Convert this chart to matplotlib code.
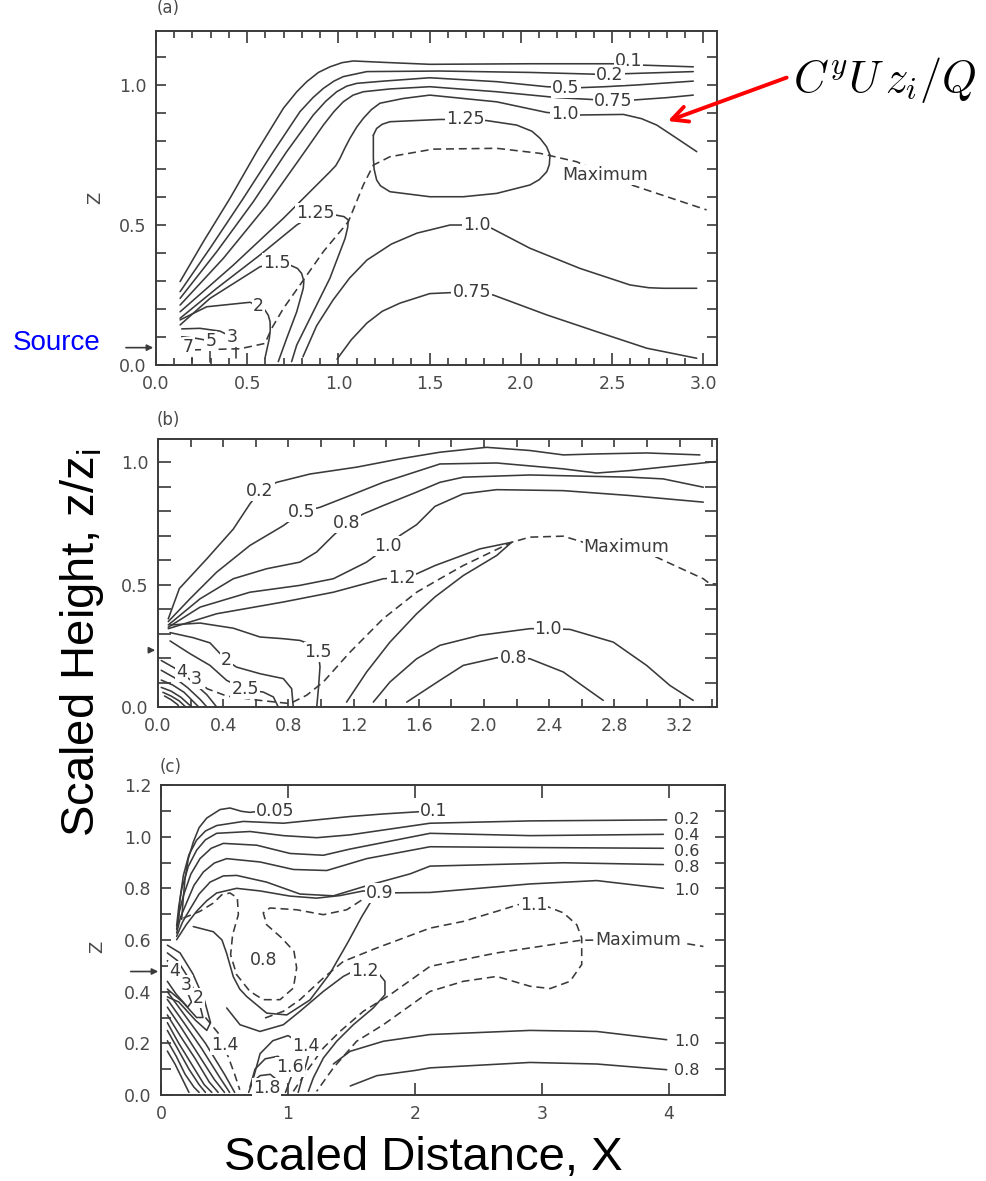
import matplotlib
matplotlib.use("Agg")
import matplotlib.pyplot as plt
from matplotlib.ticker import MultipleLocator

plt.rcParams['font.family'] = ['DejaVu Sans']
INK = '#3a3a3a'
W, H = 987, 1181

# ---------------- panel (a): contour lines (x, z) ----------------
a_01 = [(0.132, 0.298), (0.259, 0.440), (0.405, 0.595), (0.552, 0.762), (0.698, 0.917), (0.770, 0.975),
        (0.826, 1.012), (0.890, 1.045), (0.953, 1.065), (1.020, 1.080), (1.081, 1.086), (1.246, 1.081),
        (1.50, 1.074), (2.05, 1.076), (2.50, 1.076), (2.67, 1.071), (2.944, 1.065)]
a_02 = [(0.132, 0.262), (0.296, 0.417), (0.478, 0.595), (0.643, 0.762), (0.789, 0.905), (0.860, 0.955),
        (0.917, 0.988), (0.975, 1.014), (1.026, 1.030), (1.155, 1.048), (1.556, 1.050), (2.05, 1.045),
        (2.45, 1.038), (2.944, 1.048)]
a_05 = [(0.132, 0.238), (0.333, 0.405), (0.533, 0.583), (0.716, 0.762), (0.862, 0.893), (0.930, 0.942),
        (0.990, 0.976), (1.045, 0.996), (1.100, 1.006), (1.246, 1.014), (1.50, 1.026), (1.867, 1.012),
        (2.141, 0.994), (2.30, 0.990), (2.46, 0.994), (2.63, 1.000), (2.944, 1.014)]
a_075 = [(0.132, 0.214), (0.369, 0.381), (0.607, 0.571), (0.789, 0.738), (0.917, 0.857), (0.975, 0.905),
         (1.026, 0.940), (1.080, 0.964), (1.136, 0.976), (1.282, 0.986), (1.50, 0.994), (1.867, 0.976),
         (2.20, 0.955), (2.54, 0.943), (2.80, 0.955), (2.944, 0.964)]
a_10 = [(0.132, 0.190), (0.424, 0.357), (0.698, 0.524), (0.953, 0.690), (0.985, 0.712), (1.008, 0.738),
        (1.035, 0.775), (1.063, 0.810), (1.100, 0.850), (1.136, 0.881), (1.180, 0.912), (1.227, 0.935),
        (1.355, 0.952), (1.50, 0.964), (1.867, 0.940), (2.141, 0.902), (2.323, 0.893), (2.561, 0.895),
        (2.660, 0.880), (2.744, 0.857), (2.853, 0.810), (2.963, 0.762)]
a_125 = [(0.132, 0.167), (0.333, 0.274), (0.570, 0.393), (0.771, 0.500), (0.875, 0.542), (0.981, 0.536),
         (1.030, 0.530), (1.054, 0.518), (1.050, 0.490), (1.036, 0.452), (0.953, 0.310), (0.844, 0.167),
         (0.771, 0.071), (0.743, 0.012)]
a_15 = [(0.132, 0.143), (0.296, 0.238), (0.570, 0.351), (0.661, 0.363), (0.734, 0.357), (0.775, 0.345),
        (0.798, 0.327), (0.810, 0.300), (0.807, 0.274), (0.771, 0.190), (0.716, 0.095), (0.670, 0.012)]
a_2 = [(0.132, 0.161), (0.278, 0.208), (0.515, 0.224), (0.561, 0.212), (0.597, 0.196), (0.615, 0.178),
       (0.625, 0.155), (0.626, 0.125), (0.621, 0.095), (0.597, 0.024)]
a_3 = [(0.141, 0.129), (0.241, 0.131), (0.351, 0.121), (0.40, 0.105)]
a_5 = [(0.141, 0.101), (0.223, 0.095), (0.28, 0.088)]
a_loop125 = [(1.191, 0.821), (1.209, 0.845), (1.240, 0.860), (1.282, 0.869), (1.556, 0.877), (1.693, 0.877),
             (1.812, 0.873), (1.976, 0.857), (2.060, 0.835), (2.104, 0.810), (2.140, 0.780), (2.159, 0.750),
             (2.155, 0.715), (2.141, 0.690), (2.100, 0.662), (2.049, 0.643), (1.867, 0.613), (1.684, 0.601),
             (1.501, 0.601), (1.282, 0.619), (1.230, 0.640), (1.209, 0.661), (1.195, 0.700), (1.191, 0.738),
             (1.191, 0.821)]
a_10low = [(0.805, 0.029), (0.880, 0.140), (0.970, 0.232), (1.060, 0.310), (1.156, 0.375), (1.290, 0.432),
           (1.430, 0.471), (1.611, 0.500), (1.757, 0.500), (1.840, 0.488), (2.049, 0.417), (2.323, 0.345),
           (2.597, 0.286), (2.700, 0.276), (2.780, 0.274), (2.963, 0.274)]
a_075low = [(0.992, 0.021), (1.070, 0.090), (1.156, 0.150), (1.240, 0.192), (1.337, 0.221), (1.500, 0.255),
            (1.730, 0.262), (1.848, 0.250), (2.141, 0.179), (2.415, 0.119), (2.689, 0.060), (2.963, 0.024)]
a_stubs = [[(0.196, 0.012), (0.196, 0.060)], [(0.296, 0.012), (0.296, 0.060)], [(0.438, 0.025), (0.438, 0.080)]]
a_max = [(0.203, 0.054), (0.460, 0.058), (0.597, 0.077), (0.634, 0.131), (0.698, 0.202), (0.789, 0.286),
         (0.917, 0.405), (1.054, 0.512), (1.136, 0.643), (1.191, 0.714), (1.282, 0.744), (1.518, 0.771),
         (1.867, 0.774), (2.104, 0.756), (2.305, 0.726), (2.464, 0.679), (2.597, 0.645), (3.017, 0.554)]
a_labels = [('0.1', 2.588, 1.086), ('0.2', 2.488, 1.036), ('0.5', 2.245, 0.990), ('0.75', 2.506, 0.943),
            ('1.0', 2.241, 0.895), ('1.25', 1.693, 0.877), ('1.25', 0.875, 0.542), ('1.5', 0.661, 0.363),
            ('2', 0.561, 0.212), ('3', 0.415, 0.101), ('5', 0.30, 0.086), ('7', 0.177, 0.065),
            ('1.0', 1.757, 0.500), ('0.75', 1.730, 0.262), ('Maximum', 2.464, 0.679)]

# ---------------- panel (b) ----------------
b_02 = [(0.063, 0.360), (0.131, 0.484), (0.299, 0.605), (0.462, 0.727), (0.564, 0.830), (0.626, 0.884),
        (0.728, 0.918), (0.933, 0.952), (1.219, 0.980), (1.485, 1.014), (1.730, 1.041), (2.016, 1.061),
        (2.282, 1.048), (2.487, 1.030), (2.691, 1.034), (2.998, 1.038), (3.325, 1.030)]
b_05 = [(0.063, 0.349), (0.196, 0.442), (0.360, 0.551), (0.564, 0.660), (0.769, 0.741), (0.881, 0.796),
        (0.994, 0.816), (1.178, 0.864), (1.382, 0.918), (1.730, 0.993), (2.078, 0.997), (2.487, 0.973),
        (2.691, 0.956), (2.896, 0.966), (3.428, 1.003)]
b_08 = [(0.063, 0.335), (0.258, 0.442), (0.462, 0.524), (0.667, 0.565), (0.871, 0.592), (0.973, 0.633),
        (1.076, 0.701), (1.157, 0.752), (1.260, 0.789), (1.382, 0.823), (1.587, 0.878), (1.730, 0.918),
        (1.873, 0.939), (2.282, 0.948), (2.896, 0.939), (3.100, 0.932), (3.346, 0.898)]
b_10 = [(0.063, 0.326), (0.258, 0.408), (0.564, 0.469), (0.871, 0.497), (1.076, 0.524), (1.280, 0.592),
        (1.413, 0.657), (1.485, 0.701), (1.587, 0.745), (1.700, 0.820), (1.873, 0.871), (2.078, 0.888),
        (2.487, 0.884), (2.896, 0.864), (3.346, 0.837)]
b_12 = [(0.063, 0.320), (0.360, 0.381), (0.769, 0.429), (1.076, 0.469), (1.382, 0.524), (1.495, 0.528),
        (1.587, 0.544), (1.700, 0.578), (1.975, 0.646), (2.170, 0.673), (2.078, 0.619), (1.873, 0.537),
        (1.700, 0.450), (1.587, 0.381), (1.423, 0.265), (1.280, 0.143), (1.157, 0.020)]
b_10low = [(1.321, 0.020), (1.423, 0.102), (1.587, 0.197), (1.730, 0.252), (1.975, 0.293), (2.282, 0.320),
           (2.395, 0.320), (2.528, 0.317), (2.794, 0.265), (2.998, 0.170), (3.141, 0.088), (3.284, 0.027)]
b_08low = [(1.526, 0.020), (1.730, 0.109), (1.873, 0.170), (2.078, 0.201), (2.180, 0.201), (2.282, 0.197),
           (2.487, 0.143), (2.630, 0.075), (2.732, 0.027)]
b_15 = [(0.074, 0.335), (0.258, 0.343), (0.462, 0.322), (0.626, 0.286), (0.769, 0.279), (0.871, 0.272),
        (0.953, 0.252), (0.984, 0.224), (0.994, 0.164), (0.985, 0.080), (0.974, 0.0)]
b_2 = [(0.074, 0.304), (0.217, 0.283), (0.319, 0.262), (0.421, 0.190), (0.482, 0.163), (0.626, 0.136),
       (0.769, 0.116), (0.820, 0.075), (0.830, 0.0)]
b_25 = [(0.074, 0.270), (0.196, 0.218), (0.319, 0.170), (0.421, 0.109), (0.534, 0.072), (0.646, 0.061),
        (0.708, 0.041), (0.738, 0.0)]
b_fan = [[(0.02, 0.19), (0.10, 0.16), (0.20, 0.11), (0.30, 0.05), (0.36, 0.0)],
         [(0.02, 0.15), (0.10, 0.12), (0.18, 0.08), (0.26, 0.03), (0.30, 0.0)],
         [(0.02, 0.11), (0.09, 0.09), (0.16, 0.06), (0.22, 0.02), (0.25, 0.0)],
         [(0.02, 0.08), (0.08, 0.065), (0.14, 0.04), (0.19, 0.01), (0.21, 0.0)],
         [(0.03, 0.06), (0.08, 0.045), (0.13, 0.025), (0.17, 0.0)],
         [(0.04, 0.045), (0.08, 0.03), (0.12, 0.01), (0.13, 0.0)]]
b_max = [(0.24, 0.12), (0.30, 0.075), (0.421, 0.045), (0.626, 0.027), (0.810, 0.014), (0.912, 0.048),
         (1.014, 0.102), (1.178, 0.224), (1.382, 0.361), (1.587, 0.469), (1.730, 0.524), (1.873, 0.578),
         (2.170, 0.673), (2.282, 0.694), (2.487, 0.698), (2.610, 0.673), (2.875, 0.653), (3.059, 0.612),
         (3.346, 0.524), (3.387, 0.503), (3.428, 0.503)]
b_labels = [('0.2', 0.626, 0.884), ('0.5', 0.881, 0.796), ('0.8', 1.157, 0.752), ('1.0', 1.413, 0.657),
            ('1.2', 1.495, 0.528), ('1.5', 0.984, 0.224), ('2', 0.421, 0.190), ('2.5', 0.534, 0.072),
            ('4', 0.145, 0.143), ('3', 0.237, 0.113), ('1.0', 2.395, 0.320), ('0.8', 2.180, 0.201),
            ('Maximum', 2.875, 0.653)]

# ---------------- panel (c) ----------------
c_005 = [(0.163, 0.680), (0.175, 0.760), (0.189, 0.837), (0.215, 0.915), (0.255, 0.980), (0.300, 1.035),
         (0.360, 1.072), (0.465, 1.105), (0.543, 1.111), (0.635, 1.098), (0.701, 1.094), (0.80, 1.100)]
c_01 = [(0.136, 0.667), (0.150, 0.760), (0.176, 0.850), (0.220, 0.930), (0.281, 0.987), (0.350, 1.022),
        (0.438, 1.043), (0.648, 1.059), (0.963, 1.052), (1.226, 1.065), (1.488, 1.078), (1.751, 1.088),
        (2.08, 1.098)]
c_02 = [(0.123, 0.654), (0.140, 0.730), (0.163, 0.797), (0.215, 0.885), (0.281, 0.948), (0.350, 0.988),
        (0.438, 1.013), (0.701, 1.020), (0.963, 1.004), (1.226, 0.996), (1.488, 1.007), (2.118, 1.052),
        (2.906, 1.061), (3.981, 1.065)]
c_04 = [(0.123, 0.641), (0.145, 0.710), (0.176, 0.771), (0.235, 0.855), (0.307, 0.915), (0.395, 0.955),
        (0.491, 0.974), (0.753, 0.967), (1.016, 0.935), (1.278, 0.928), (1.488, 0.952), (2.118, 1.013),
        (2.906, 1.004), (3.955, 1.009)]
c_06 = [(0.123, 0.627), (0.155, 0.690), (0.202, 0.745), (0.260, 0.812), (0.333, 0.863), (0.420, 0.898),
        (0.517, 0.915), (0.780, 0.902), (1.042, 0.873), (1.305, 0.869), (1.619, 0.915), (2.118, 0.961),
        (2.906, 0.958), (3.955, 0.955)]
c_08 = [(0.123, 0.614), (0.170, 0.670), (0.228, 0.719), (0.300, 0.778), (0.386, 0.824), (0.490, 0.848),
        (0.596, 0.850), (0.832, 0.824), (1.094, 0.778), (1.357, 0.771), (1.619, 0.810), (1.961, 0.856),
        (2.118, 0.886), (3.168, 0.899), (3.955, 0.892)]
c_10 = [(0.123, 0.601), (0.200, 0.660), (0.280, 0.711), (0.360, 0.752), (0.438, 0.782), (0.595, 0.800),
        (0.779, 0.790), (1.015, 0.770), (1.225, 0.762), (1.409, 0.772), (1.593, 0.790), (1.724, 0.782),
        (2.118, 0.784), (2.906, 0.817), (3.430, 0.830), (3.955, 0.800)]
c_wrap = [(0.254, 0.652), (0.412, 0.632), (0.480, 0.600), (0.517, 0.548), (0.569, 0.458), (0.620, 0.410),
          (0.675, 0.381), (0.832, 0.317), (0.990, 0.310), (1.173, 0.368), (1.331, 0.471), (1.470, 0.590),
          (1.580, 0.690), (1.660, 0.755), (1.724, 0.782)]
c_12 = [(0.517, 0.337), (0.622, 0.272), (0.779, 0.246), (0.963, 0.272), (1.094, 0.324), (1.278, 0.401),
        (1.435, 0.459), (1.514, 0.479), (1.606, 0.481), (1.711, 0.472), (1.763, 0.440), (1.763, 0.388),
        (1.671, 0.337), (1.514, 0.272), (1.383, 0.208), (1.278, 0.143), (1.199, 0.066), (1.160, 0.014)]
c_10low = [(1.357, 0.120), (1.488, 0.169), (1.750, 0.208), (2.118, 0.234), (2.905, 0.250), (3.430, 0.246),
           (3.981, 0.214)]
c_08low = [(1.490, 0.035), (1.700, 0.075), (2.000, 0.095), (2.118, 0.105), (2.905, 0.126), (3.430, 0.120),
           (3.981, 0.098)]
c_18 = [(0.69, 0.01), (0.72, 0.05), (0.78, 0.075), (0.86, 0.08), (0.91, 0.06), (0.93, 0.01)]
c_16 = [(0.70, 0.03), (0.74, 0.10), (0.82, 0.14), (0.92, 0.15), (1.016, 0.107), (1.04, 0.09), (1.01, 0.05),
        (0.98, 0.01)]
c_14 = [(0.73, 0.07), (0.78, 0.16), (0.88, 0.21), (1.00, 0.23), (1.141, 0.188), (1.16, 0.15), (1.12, 0.08),
        (1.08, 0.01)]
c_loops = [[(0.05, 0.58), (0.15, 0.55), (0.25, 0.47), (0.34, 0.37), (0.39, 0.28), (0.36, 0.25), (0.27, 0.29),
            (0.14, 0.36), (0.05, 0.38)],
           [(0.05, 0.55), (0.13, 0.52), (0.22, 0.45), (0.30, 0.36), (0.33, 0.30), (0.28, 0.30), (0.17, 0.36),
            (0.05, 0.41)],
           [(0.05, 0.52), (0.11, 0.49), (0.18, 0.43), (0.24, 0.36), (0.21, 0.34), (0.12, 0.39), (0.05, 0.44)]]
c_fan = [[(0.05, 0.40), (0.20, 0.30), (0.35, 0.20), (0.50, 0.08), (0.58, 0.01)],
         [(0.05, 0.37), (0.18, 0.28), (0.32, 0.18), (0.46, 0.07), (0.54, 0.01)],
         [(0.05, 0.34), (0.16, 0.26), (0.29, 0.16), (0.42, 0.06), (0.50, 0.01)],
         [(0.05, 0.31), (0.15, 0.23), (0.27, 0.14), (0.38, 0.05), (0.45, 0.01)],
         [(0.05, 0.28), (0.14, 0.20), (0.24, 0.12), (0.34, 0.04), (0.40, 0.01)],
         [(0.05, 0.25), (0.13, 0.18), (0.22, 0.10), (0.30, 0.04), (0.35, 0.01)],
         [(0.05, 0.21), (0.12, 0.15), (0.19, 0.08), (0.26, 0.03), (0.30, 0.01)],
         [(0.05, 0.17), (0.11, 0.12), (0.17, 0.06), (0.22, 0.01)]]
c_d08 = [(0.176, 0.685), (0.307, 0.711), (0.412, 0.743), (0.478, 0.775), (0.543, 0.782), (0.601, 0.763),
         (0.609, 0.698), (0.564, 0.621), (0.548, 0.543), (0.595, 0.466), (0.700, 0.401), (0.805, 0.369),
         (0.937, 0.369), (1.042, 0.414), (1.068, 0.492), (1.047, 0.556), (0.950, 0.608), (0.832, 0.659),
         (0.805, 0.705), (0.858, 0.724), (1.068, 0.717), (1.278, 0.698), (1.462, 0.717), (1.606, 0.763)]
c_d11 = [(0.819, 0.298), (0.963, 0.324), (1.094, 0.369), (1.278, 0.453), (1.435, 0.517), (1.698, 0.569),
         (2.118, 0.646), (2.380, 0.672), (2.643, 0.711), (2.814, 0.737), (2.932, 0.737), (3.037, 0.730),
         (3.168, 0.705), (3.273, 0.659), (3.312, 0.608), (3.312, 0.505), (3.220, 0.440), (3.063, 0.412),
         (2.905, 0.421), (2.643, 0.459), (2.380, 0.440), (2.118, 0.401), (1.750, 0.272), (1.540, 0.208),
         (1.357, 0.105), (1.225, 0.014)]
c_max = [(1.042, 0.014), (1.147, 0.092), (1.278, 0.182), (1.409, 0.246), (1.593, 0.324), (1.803, 0.388),
         (2.118, 0.498), (2.643, 0.550), (3.305, 0.599), (3.760, 0.601), (4.110, 0.588), (4.270, 0.575)]
c_d14 = [(0.35, 0.30), (0.45, 0.24), (0.52, 0.16), (0.58, 0.08), (0.62, 0.02)]
c_labels = [('0.05', 0.898, 1.101), ('0.1', 2.150, 1.098), ('0.9', 1.724, 0.782), ('0.8', 0.805, 0.524),
            ('1.2', 1.606, 0.481), ('1.1', 2.932, 0.737), ('4', 0.110, 0.479), ('3', 0.202, 0.427),
            ('2', 0.294, 0.375), ('1.4', 0.504, 0.195), ('1.4', 1.141, 0.188), ('1.6', 1.016, 0.107),
            ('1.8', 0.832, 0.027)]
c_right = [('0.2', 1.068), ('0.4', 1.004), ('0.6', 0.942), ('0.8', 0.880), ('1.0', 0.791), ('1.0', 0.208),
           ('0.8', 0.095)]


def axes_px(fig, left, top, right, bottom):
    return fig.add_axes([left / W, 1 - bottom / H, (right - left) / W, (bottom - top) / H])


def draw(ax, lines, dashed=False):
    for pts in lines:
        xs, zs = zip(*pts)
        ax.plot(xs, zs, color=INK, lw=1.15, ls=(0, (5, 3)) if dashed else '-',
                solid_joinstyle='round', solid_capstyle='round', zorder=2)


def label(ax, items, size=12.5):
    for txt, x, z in items:
        ax.text(x, z, txt, ha='center', va='center', fontsize=size, color=INK, zorder=4,
                bbox=dict(boxstyle='square,pad=0.06', fc='white', ec='none'))


def frame(ax, xlim, ylim, xmaj, xmin, ymaj, ymin, xlen, ylen):
    ax.set_xlim(*xlim)
    ax.set_ylim(*ylim)
    ax.xaxis.set_major_locator(MultipleLocator(xmaj))
    ax.yaxis.set_major_locator(MultipleLocator(ymaj))
    if xmin:
        ax.xaxis.set_minor_locator(MultipleLocator(xmin))
    if ymin:
        ax.yaxis.set_minor_locator(MultipleLocator(ymin))
    ax.tick_params(which='both', direction='in', top=True, right=True, color=INK, width=1.2,
                   labelcolor='#4a4a4a', labelsize=12.5, pad=7)
    ax.tick_params(axis='x', which='major', length=xlen[0])
    ax.tick_params(axis='x', which='minor', length=xlen[1])
    ax.tick_params(axis='y', which='major', length=ylen[0])
    ax.tick_params(axis='y', which='minor', length=ylen[1])
    for s in ax.spines.values():
        s.set_color(INK)
        s.set_linewidth(1.4)


def source_arrow(ax, x0, z):
    ax.annotate('', xy=(0, z), xytext=(x0, z), annotation_clip=False,
                arrowprops=dict(arrowstyle='-|>', color=INK, lw=1.2, mutation_scale=9))


fig = plt.figure(figsize=(W / 100, H / 100), dpi=100)

# (a)
ax = axes_px(fig, 156, 31, 717, 365)
frame(ax, (0, 3.074), (0, 1.193), 0.5, 0.1, 0.5, 0.1, (8.5, 5), (7, 7))
ax.xaxis.set_major_formatter(lambda v, p: f'{v:.1f}')
ax.yaxis.set_major_formatter(lambda v, p: f'{v:.1f}')
draw(ax, [a_01, a_02, a_05, a_075, a_10, a_125, a_15, a_2, a_3, a_5, a_loop125, a_10low, a_075low] + a_stubs)
draw(ax, [a_max], dashed=True)
label(ax, a_labels)
source_arrow(ax, -0.18, 0.062)
ax.annotate('', xy=(2.79, 0.868), xytext=(3.47, 1.03), annotation_clip=False,
            arrowprops=dict(arrowstyle='->', color='red', lw=2.8, mutation_scale=28))

# (b)
ax = axes_px(fig, 158, 439, 717, 707)
frame(ax, (0, 3.43), (0, 1.095), 0.4, 0.2, 0.5, 0.1, (6, 6), (9, 9))
ax.xaxis.set_major_formatter(lambda v, p: f'{v:.1f}')
ax.yaxis.set_major_formatter(lambda v, p: f'{v:.1f}')
draw(ax, [b_02, b_05, b_08, b_10, b_12, b_10low, b_08low, b_15, b_2, b_25] + b_fan)
draw(ax, [b_max], dashed=True)
label(ax, b_labels)
source_arrow(ax, -0.07, 0.232)

# (c)
ax = axes_px(fig, 161, 785, 725, 1095)
frame(ax, (0, 4.44), (0, 1.2), 1, None, 0.2, 0.1, (9, 9), (7, 7))
ax.xaxis.set_major_formatter(lambda v, p: f'{v:.0f}')
ax.yaxis.set_major_formatter(lambda v, p: f'{v:.1f}')
draw(ax, [c_005, c_01, c_02, c_04, c_06, c_08, c_10, c_wrap, c_12, c_10low, c_08low, c_18, c_16, c_14]
     + c_loops + c_fan)
draw(ax, [c_d08, c_d11, c_max, c_d14], dashed=True)
label(ax, c_labels)
label(ax, [('Maximum', 3.76, 0.601)])
for txt, z in c_right:
    ax.text(4.14, z, txt, ha='center', va='center', fontsize=11.5, color=INK,
            bbox=dict(boxstyle='square,pad=0.0', fc='white', ec='none'))
source_arrow(ax, -0.26, 0.478)

# panel letters and the small z labels
for txt, xp, yp in [('(a)', 168, 8), ('(b)', 168, 420), ('(c)', 171, 767)]:
    fig.text(xp / W, 1 - yp / H, txt, ha='center', va='center', fontsize=12, color='#4a4a4a')
for xp, yp in [(95, 198), (97, 947)]:
    fig.text(xp / W, 1 - yp / H, 'Z', rotation=90, ha='center', va='center', fontsize=13, color='#4a4a4a')

fig.text(57 / W, 1 - 343 / H, 'Source', color='blue', fontsize=20, family='Liberation Sans',
         ha='center', va='center')
fig.text(82 / W, 1 - 643 / H, 'Scaled Height, z/z$_\\mathregular{i}$', rotation=90, fontsize=34,
         family='Liberation Sans', ha='center', va='center')
fig.text(423 / W, 1 - 1158 / H, 'Scaled Distance, X', fontsize=34, family='Liberation Sans',
         ha='center', va='center')
fig.text(885 / W, 1 - 80 / H, r'$C^yU\,z_i/Q$', fontsize=32, math_fontfamily='cm',
         ha='center', va='center')

fig.savefig('out.png', dpi=100)
